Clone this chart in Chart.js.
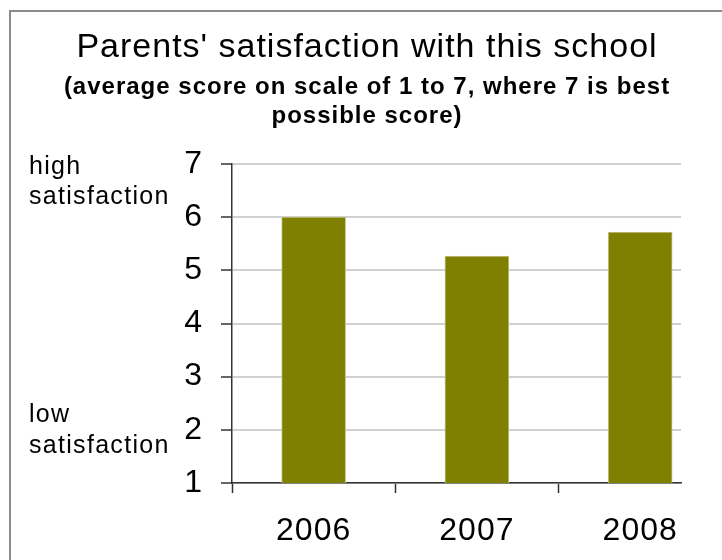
<!DOCTYPE html>
<html><head><meta charset="utf-8">
<script src="https://cdn.jsdelivr.net/npm/chart.js@4"></script>
<style>html,body{margin:0;padding:0;background:#fff;overflow:hidden}canvas{display:block}</style>
</head><body>
<canvas id="c" width="722" height="560"></canvas>
<script>
const years = ['2006', '2007', '2008'];
const scores = [6.0, 5.27, 5.72];
const yTicks = [1, 2, 3, 4, 5, 6, 7];
const titleText = "Parents' satisfaction with this school";
const subtitleLines = ["(average score on scale of 1 to 7, where 7 is best", "possible score)"];
const highLabel = ['high', 'satisfaction'];
const lowLabel = ['low', 'satisfaction'];

const FONT = "'Liberation Sans', Arial, sans-serif";

const spacingPlugin = {
  id: 'spacing',
  beforeUpdate(chart) { chart.ctx.letterSpacing = '1px'; },
  beforeLayout(chart) { chart.ctx.letterSpacing = '1px'; },
  beforeDraw(chart) {
    const ctx = chart.ctx;
    ctx.letterSpacing = '1px';
    ctx.save();
    ctx.strokeStyle = '#8c8c8c';
    ctx.lineWidth = 2;
    ctx.strokeRect(10, 11, 800, 700);
    ctx.restore();
  },
  afterDraw(chart) {
    const ctx = chart.ctx;
    ctx.save();
    ctx.letterSpacing = '1.3px';
    ctx.fillStyle = '#000';
    ctx.font = '25px ' + FONT;
    ctx.textAlign = 'left';
    ctx.textBaseline = 'alphabetic';
    ctx.fillText(highLabel[0], 29, 174);
    ctx.fillText(highLabel[1], 29, 204);
    ctx.fillText(lowLabel[0], 29, 422);
    ctx.fillText(lowLabel[1], 29, 453);
    ctx.restore();
  }
};

new Chart(document.getElementById('c'), {
  type: 'bar',
  data: {
    datasets: [{
      data: years.map((y, i) => ({ x: i, y: scores[i] })),
      backgroundColor: '#808000',
      borderColor: '#c4c48a',
      borderWidth: 1,
      barThickness: 64
    }]
  },
  plugins: [spacingPlugin],
  options: {
    responsive: false,
    animation: false,
    layout: { padding: { left: 53, right: 41, top: 0, bottom: 0 } },
    plugins: {
      legend: { display: false },
      tooltip: { enabled: false },
      title: {
        display: true,
        text: titleText,
        color: '#000',
        font: { family: FONT, size: 34, weight: 'normal', lineHeight: 1.2 },
        padding: { top: 27, bottom: 0 }
      },
      subtitle: {
        display: true,
        text: subtitleLines,
        color: '#000',
        font: { family: FONT, size: 24, weight: 'bold', lineHeight: 1.2 },
        padding: { top: 5, bottom: 33.6 }
      }
    },
    scales: {
      x: {
        type: 'linear',
        offset: false,
        min: -0.5,
        max: 2.25,
        afterBuildTicks(scale) {
          scale.ticks = [-0.5, 0, 0.5, 1, 1.5, 2].map(v => ({ value: v }));
        },
        afterFit(scale) { scale.height = 77; },
        grid: {
          offset: false,
          drawOnChartArea: false,
          tickLength: 10,
          tickWidth: 1.5,
          tickColor: ctx => (ctx.tick && Number.isInteger(ctx.tick.value)) ? 'rgba(0,0,0,0)' : '#333'
        },
        border: { color: '#333', width: 1.5 },
        ticks: {
          autoSkip: false,
          maxRotation: 0,
          padding: 19,
          color: '#000',
          font: { family: FONT, size: 32 },
          callback: v => Number.isInteger(v) ? years[v] : ''
        }
      },
      y: {
        min: 1,
        max: 7,
        afterBuildTicks(scale) {
          scale.ticks = yTicks.map(v => ({ value: v }));
        },
        afterFit(scale) { scale.width = 232 - 53; },
        grid: {
          color: '#d0d0d0',
          lineWidth: 2,
          tickLength: 11,
          tickWidth: 1.5,
          tickColor: '#333'
        },
        border: { color: '#333', width: 1.5 },
        ticks: {
          padding: 18,
          color: '#000',
          font: { family: FONT, size: 32 }
        }
      }
    }
  }
});
</script>
</body></html>
